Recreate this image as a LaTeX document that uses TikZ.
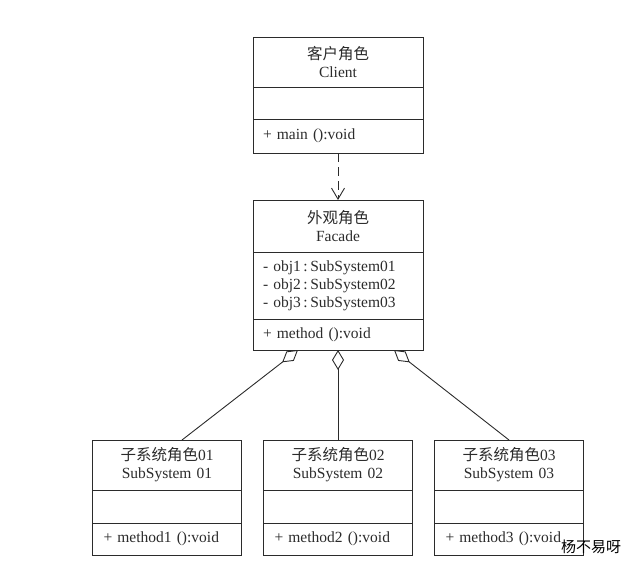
\documentclass[tikz,border=0pt]{standalone}
\usepackage{fontspec}
\setmainfont{Liberation Serif}
\newfontfamily\cjk{Noto Sans CJK SC}
\usetikzlibrary{arrows.meta,positioning}
\definecolor{umlLine}{HTML}{2B2B2B}
\definecolor{markText}{HTML}{000000}

\begin{document}
\begin{tikzpicture}[x=1pt, y=-1pt,
        node distance=0pt,
        part/.style={rectangle, draw=umlLine, line width=0.9pt, inner xsep=0pt, inner ysep=0pt, outer sep=0pt, text=umlLine, font=\fontsize{15.5}{18}\selectfont, anchor=north},
        head/.style={part, text width=170pt, minimum height=50pt, align=center},
        body/.style={part, inner xsep=10pt, text width=150pt, minimum height=33pt, align=left},
        subhead/.style={head, text width=149pt},
        subbody/.style={body, inner xsep=11pt, text width=127pt},
        dep/.style={-{Straight Barb[length=11pt, width=13pt]}, line width=0.9pt, draw=umlLine, dash pattern=on 9pt off 5pt},
        agg/.style={-{Diamond[open, length=20pt, width=12pt]}, line width=0.9pt, draw=umlLine}
      ]
        \useasboundingbox (0,0) rectangle (636,568);
        \node[head] (client) at (338,37) {{\cjk 客户角色}\\Client};
        \node[body, below=of client, minimum height=32pt] (clientAttr) {};
        \node[body, below=of clientAttr, minimum height=34pt] (clientOps) {+ main ():void};
        \node[head, below=47pt of clientOps, minimum height=52pt] (facade) {{\cjk 外观角色}\\Facade};
        \node[body, below=of facade, minimum height=67pt] (facadeAttr) {- obj1\,:\,SubSystem01\\- obj2\,:\,SubSystem02\\- obj3\,:\,SubSystem03};
        \node[body, below=of facadeAttr, minimum height=31pt] (facadeOps) {+ method ():void};
        \node[subhead, below=90pt of facadeOps] (subB) {{\cjk 子系统角色}02\\SubSystem 02};
        \node[subhead, left=22pt of subB] (subA) {{\cjk 子系统角色}01\\SubSystem 01};
        \node[subhead, right=22pt of subB] (subC) {{\cjk 子系统角色}03\\SubSystem 03};
        \node[subbody, below=of subA] (subAAttr) {};
        \node[subbody, below=of subB] (subBAttr) {};
        \node[subbody, below=of subC] (subCAttr) {};
        \node[subbody, below=of subAAttr, minimum height=32pt] (subAOps) {+ method1 ():void};
        \node[subbody, below=of subBAttr, minimum height=32pt] (subBOps) {+ method2 ():void};
        \node[subbody, below=of subCAttr, minimum height=32pt] (subCOps) {+ method3 ():void};
        \node[font=\cjk\fontsize{15}{15}\selectfont, text=markText, inner sep=0pt] (mark) at (591,547) {杨不易呀};
        \draw[dep] (clientOps) -- (facade);
        \draw[agg] ([xshift=15pt]subA.north) -- ([xshift=-40pt]facadeOps.south);
        \draw[agg] (subB.north) -- (facadeOps.south);
        \draw[agg] (subC.north) -- ([xshift=56pt]facadeOps.south);
      \end{tikzpicture}
\end{document}
